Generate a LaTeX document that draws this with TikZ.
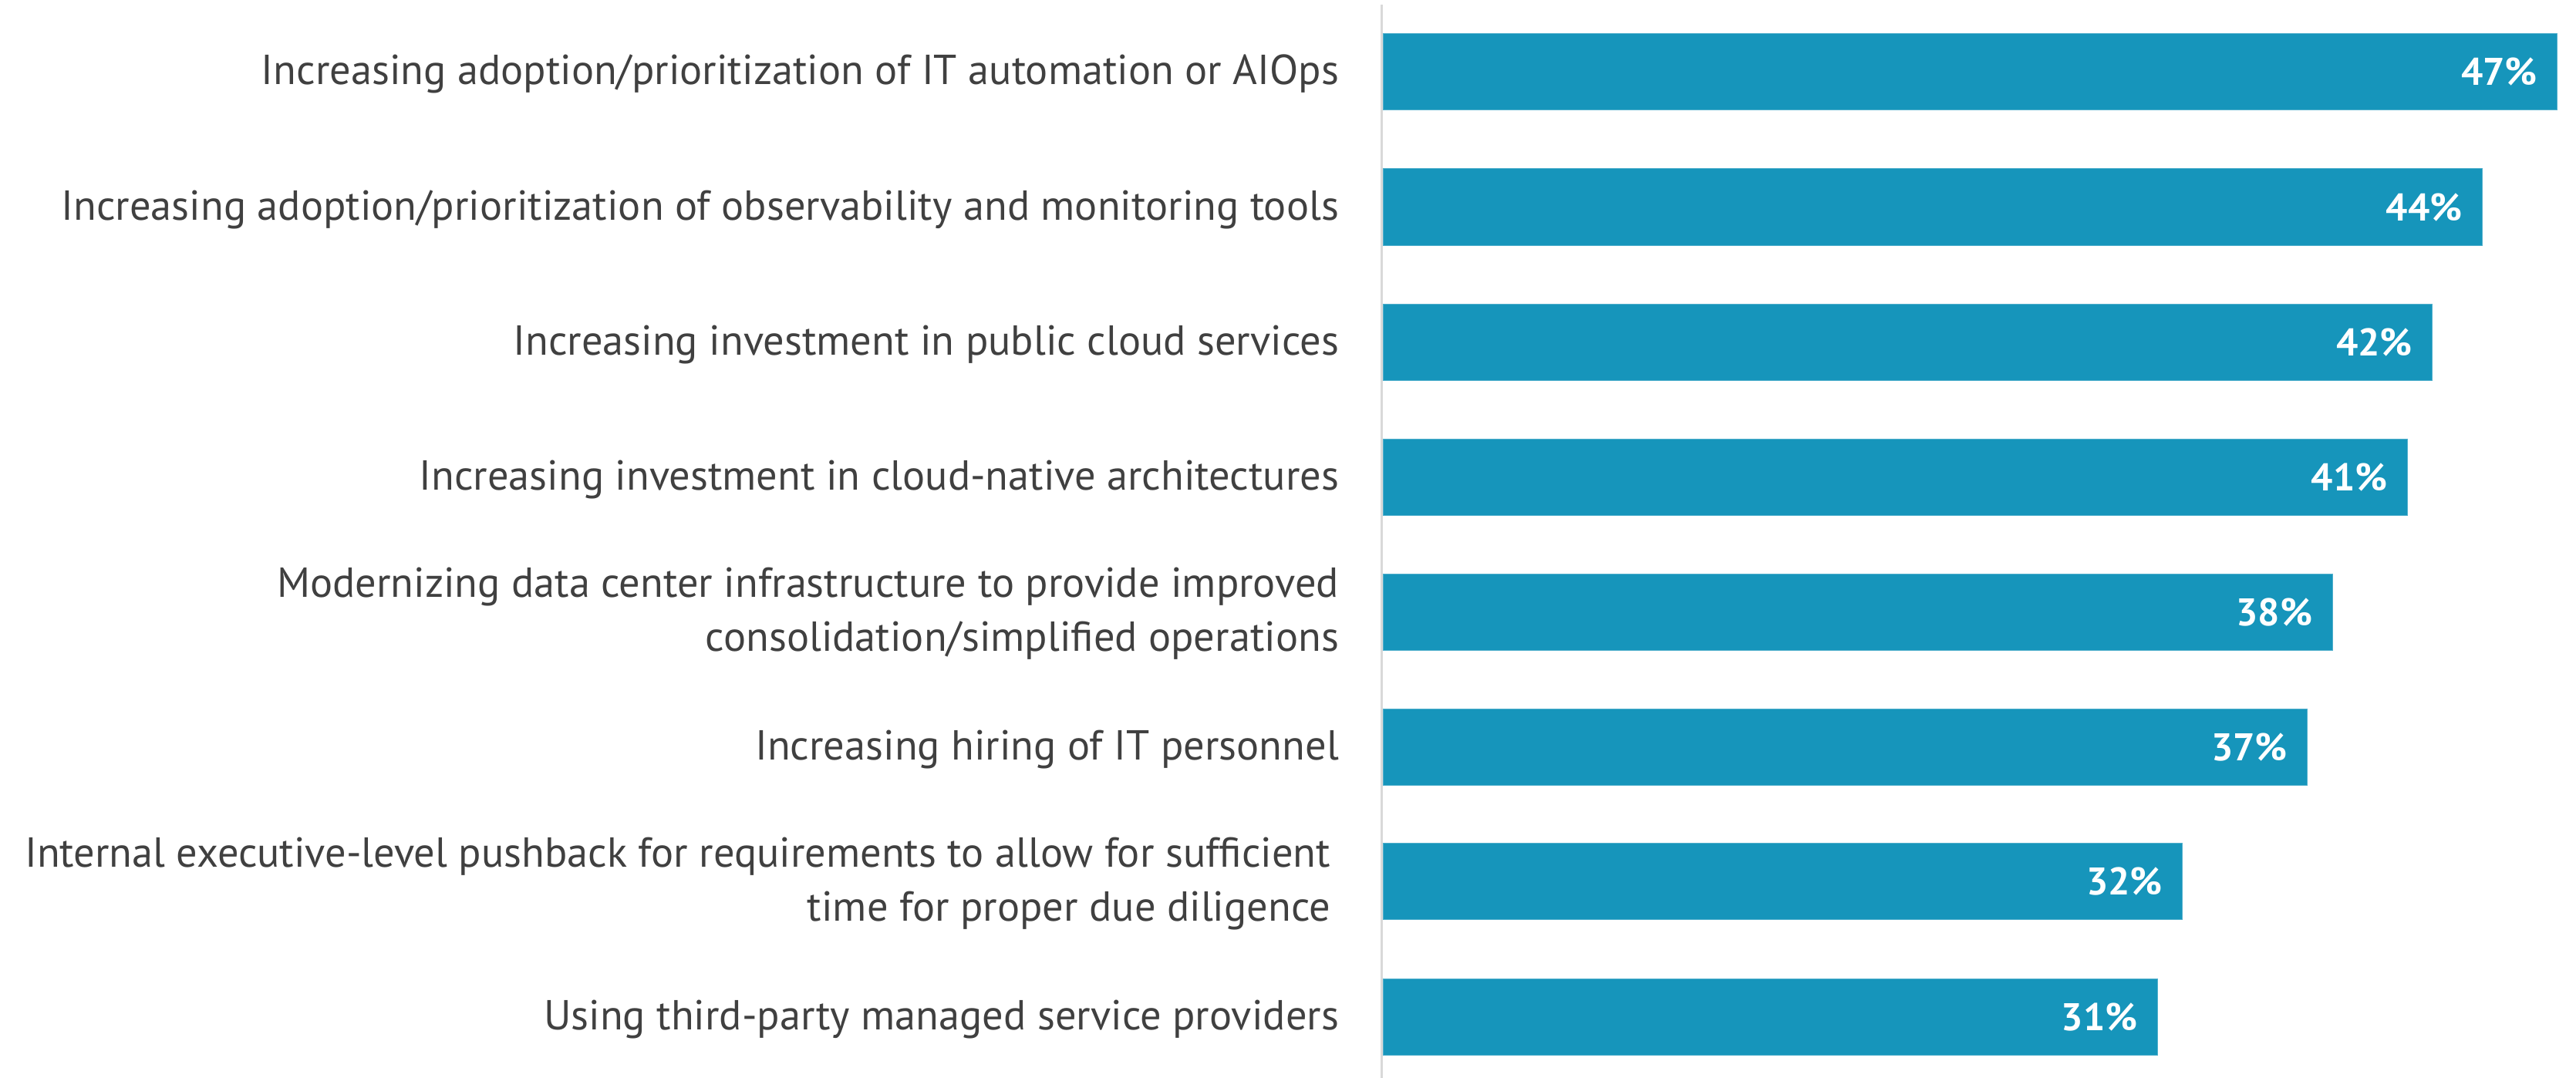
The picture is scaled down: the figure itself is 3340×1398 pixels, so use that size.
\documentclass[tikz,border=0pt]{standalone}
\usepackage{fontspec}
\setmainfont{PT Sans}
\definecolor{barc}{RGB}{22,149,187}
\definecolor{txtc}{RGB}{64,64,64}
\definecolor{axisc}{RGB}{217,217,217}
\newcommand{\twoline}[2]{\begin{tabular}[t]{@{}r@{}}#1\\#2\end{tabular}}
\begin{document}
\begin{tikzpicture}[x=1bp,y=-1bp,
  lbl/.style={anchor=base east,align=right,text=txtc,inner sep=0pt,outer sep=0pt,
    font=\fontsize{54.4bp}{70bp}\selectfont},
  pct/.style={anchor=east,text=white,inner sep=0pt,outer sep=0pt,
    font=\bfseries\fontsize{50bp}{60bp}\selectfont},
  barbox/.style={anchor=west,fill=barc,draw=barc!75!white,line width=1bp,
    minimum height=99bp,inner sep=0pt,outer sep=0pt}]
\useasboundingbox[fill=white] (0,0) rectangle (3340,1398);
\coordinate (axtop) at (1791,6);
\coordinate (axbot) at (1791,1398);
\draw[axisc,line width=3bp] (axtop) -- (axbot);
% bars
\node[barbox,minimum width=1522.8bp] (b1) at (1793,93) {};
\node[barbox,minimum width=1425.6bp] (b2) at (1793,268.5) {};
\node[barbox,minimum width=1360.8bp] (b3) at (1793,443.5) {};
\node[barbox,minimum width=1328.4bp] (b4) at (1793,618.5) {};
\node[barbox,minimum width=1231.2bp] (b5) at (1793,793.5) {};
\node[barbox,minimum width=1198.8bp] (b6) at (1793,968.5) {};
\node[barbox,minimum width=1036.8bp] (b7) at (1793,1143) {};
\node[barbox,minimum width=1004.4bp] (b8) at (1793,1318.5) {};
% values
\node[pct] (p1) at ([xshift=-26bp]b1.east) {47\%};
\node[pct] (p2) at ([xshift=-26bp]b2.east) {44\%};
\node[pct] (p3) at ([xshift=-26bp]b3.east) {42\%};
\node[pct] (p4) at ([xshift=-26bp]b4.east) {41\%};
\node[pct] (p5) at ([xshift=-26bp]b5.east) {38\%};
\node[pct] (p6) at ([xshift=-26bp]b6.east) {37\%};
\node[pct] (p7) at ([xshift=-26bp]b7.east) {32\%};
\node[pct] (p8) at ([xshift=-26bp]b8.east) {31\%};
% labels
\node[lbl] (l1) at (1736,110) {Increasing adoption/prioritization of IT automation or AIOps};
\node[lbl] (l2) at (1736,285.5) {Increasing adoption/prioritization of observability and monitoring tools};
\node[lbl] (l3) at (1736,460.5) {Increasing investment in public cloud services};
\node[lbl] (l4) at (1736,635.5) {Increasing investment in cloud-native architectures};
\node[lbl] (l5) at (1736,774) {\twoline{Modernizing data center infrastructure to provide improved}{consolidation/simplified operations}};
\node[lbl] (l6) at (1736,985.5) {Increasing hiring of IT personnel};
\node[lbl] (l7) at (1725,1124) {\twoline{Internal executive-level pushback for requirements to allow for sufficient}{time for proper due diligence}};
\node[lbl] (l8) at (1736,1335.5) {Using third-party managed service providers};
\end{tikzpicture}
\end{document}
